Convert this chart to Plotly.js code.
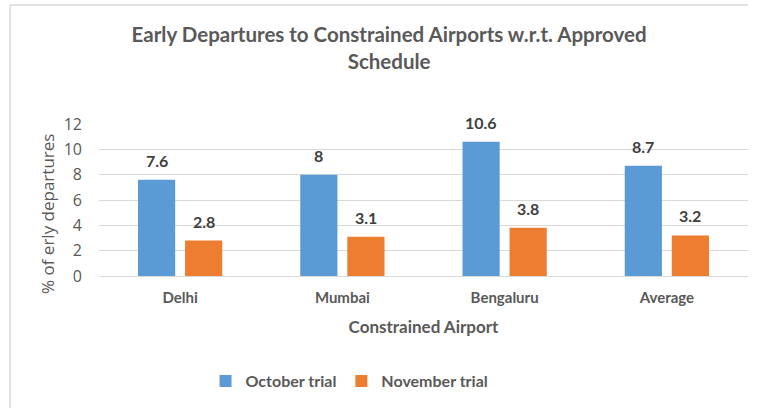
<!DOCTYPE html>
<html><head><meta charset="utf-8">
<script src="https://cdn.plot.ly/plotly-3.0.1.min.js"></script>
<style>html,body{margin:0;padding:0;background:#fff}#chart{width:757px;height:408px}</style>
</head><body><div id="chart"></div>
<script>
const categories = ["Delhi", "Mumbai", "Bengaluru", "Average"];
const octoberTrial = [7.6, 8, 10.6, 8.7];
const novemberTrial = [2.8, 3.1, 3.8, 3.2];
const seriesNames = ["October trial", "November trial"];
const yTicks = [0, 2, 4, 6, 8, 10, 12];

const FONT = "Lato, 'Open Sans', sans-serif";
const GREY = "#595959";

const mk = (name, vals, color) => ({
  type: "bar", name: name, x: categories, y: vals,
  marker: {color: color, line: {color: color, width: 0}},
  hoverinfo: "x+y"
});

const data = [mk(seriesNames[0], octoberTrial, "#5B9BD5"), mk(seriesNames[1], novemberTrial, "#ED7D31")];

const labelAnn = (vals, shift) => vals.map((v, i) => ({
  text: "<b>" + String(v) + "</b>", xref: "x", yref: "y", x: categories[i], y: v,
  xshift: shift, yshift: 8, xanchor: "center", yanchor: "bottom", showarrow: false,
  font: {family: FONT, size: 16, color: "#404040"}
}));

const layout = {
  width: 757, height: 408,
  margin: {l: 99, r: 9, t: 124, b: 132},
  paper_bgcolor: "#fff", plot_bgcolor: "#fff",
  font: {family: FONT, color: GREY},
  title: {text: "<b>Early Departures to Constrained Airports w.r.t. Approved<br>Schedule</b>",
    font: {family: FONT, size: 20.5, color: GREY}, xref: "container", x: 0.514, xanchor: "center",
    yref: "container", y: 0.897, yanchor: "top"},
  bargap: 0.42, bargroupgap: 0.21, barmode: "group",
  xaxis: {
    tickfont: {family: FONT, size: 15, color: GREY, weight: "bold"},
    showline: false, showgrid: false, ticks: "", ticklabelstandoff: 11,
    title: {text: "<b>Constrained Airport</b>", font: {family: FONT, size: 17, color: GREY}, standoff: 16}
  },
  yaxis: {
    range: [0, 12], tickvals: yTicks, ticktext: yTicks.map(String),
    tickfont: {family: "'Open Sans', sans-serif", size: 16, color: GREY},
    showgrid: true, gridcolor: "#d9d9d9", gridwidth: 1, zeroline: true, zerolinecolor: "#d9d9d9",
    ticks: "", ticklabelstandoff: 16
  },
  annotations: [
    {text: "% of erly departures", textangle: -90, xref: "paper", yref: "paper",
     x: -0.0786, y: 0.408, xanchor: "center", yanchor: "middle", showarrow: false,
     font: {family: "'Open Sans', sans-serif", size: 17, color: GREY}}
  ].concat(labelAnn(octoberTrial, -23.5), labelAnn(novemberTrial, 23.5)),
  legend: {orientation: "h", x: 0.386, xanchor: "center", y: -0.58, yanchor: "top",
    font: {family: FONT, size: 16, color: GREY, weight: "bold"}, itemwidth: 30, traceorder: "normal"},
  shapes: [
    {type: "line", xref: "paper", yref: "paper", x0: -0.137, x1: 1.0, y0: 1.783, y1: 1.783, line: {color: "#d9d9d9", width: 1.5}},
    {type: "line", xref: "paper", yref: "paper", x0: -0.137, x1: -0.137, y0: 1.783, y1: -0.9, line: {color: "#d9d9d9", width: 1.5}}
  ],
  showlegend: true
};

Plotly.newPlot("chart", data, layout, {displayModeBar: false, staticPlot: true});
</script></body></html>
